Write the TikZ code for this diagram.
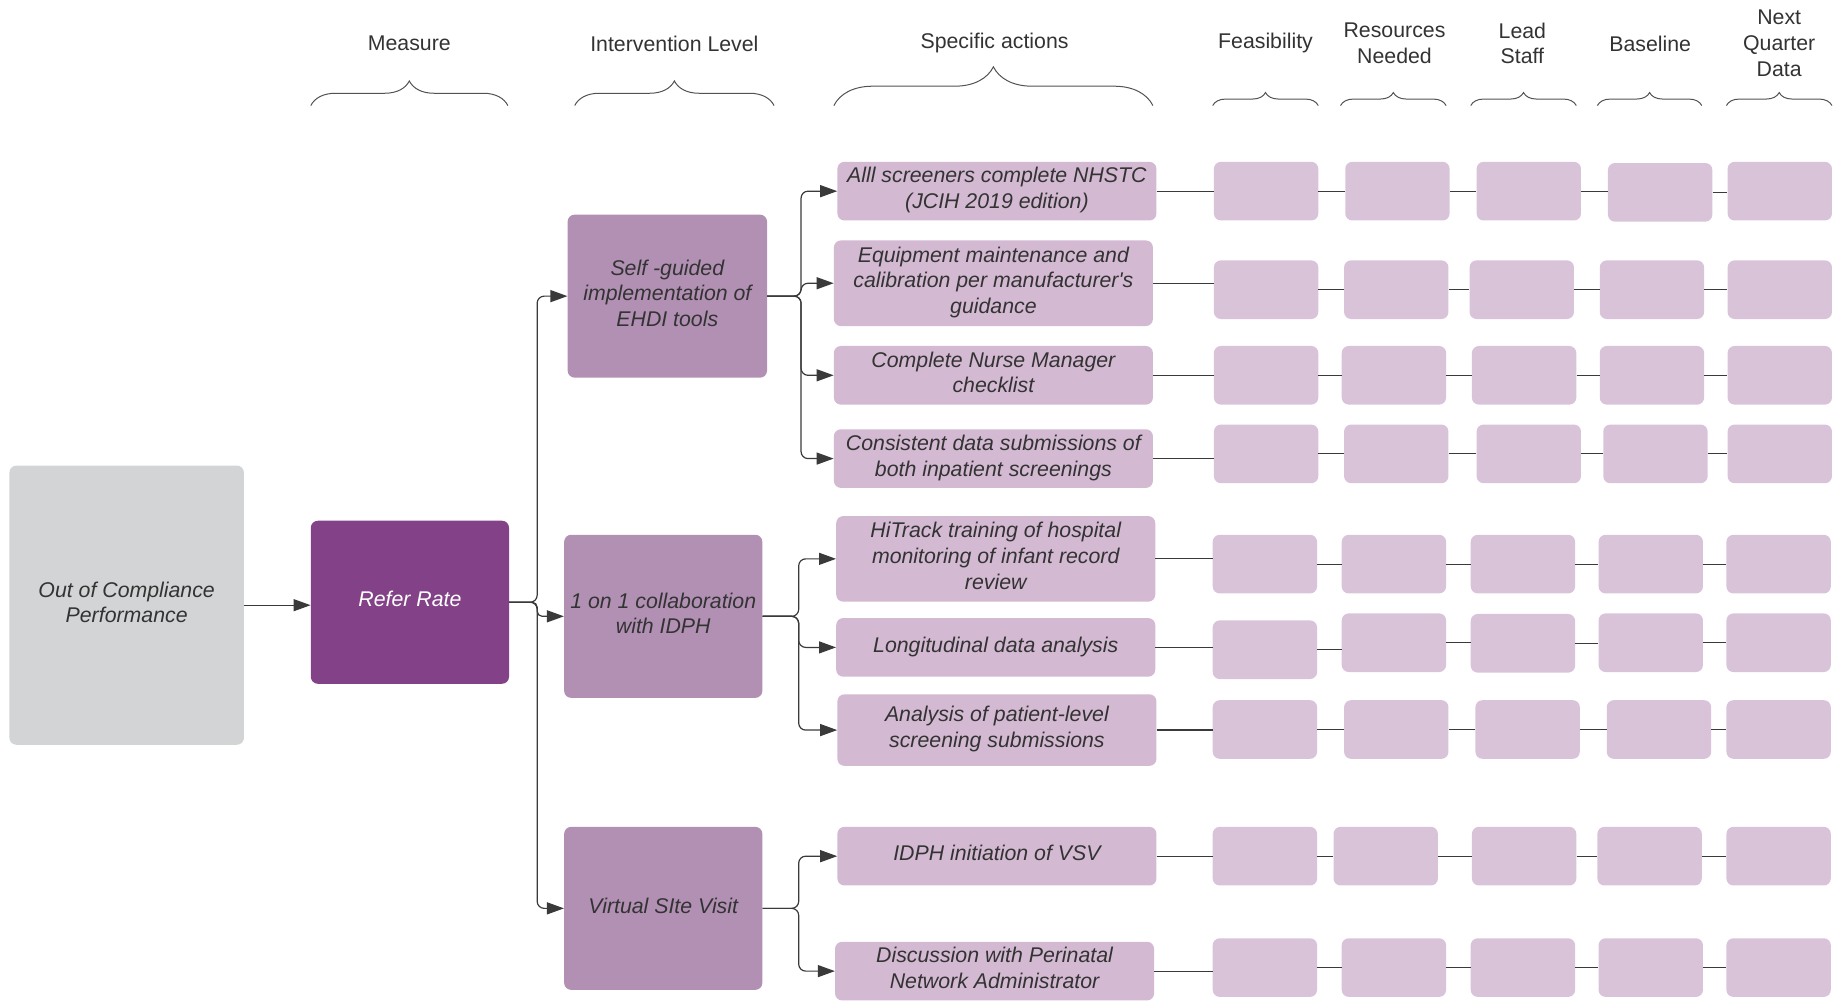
\documentclass[tikz,border=0pt]{standalone}
\usepackage{fontspec}
\setmainfont{Liberation Sans}
\usetikzlibrary{arrows.meta,decorations.pathreplacing,calc}
\definecolor{dk}{HTML}{333333}
\definecolor{lnc}{HTML}{3A3A3A}
\definecolor{grayfill}{HTML}{D3D4D6}
\definecolor{darkpurple}{HTML}{834187}
\definecolor{midpurple}{HTML}{B290B4}
\definecolor{lightpurple}{HTML}{D3B9D2}
\definecolor{gridpurple}{HTML}{D9C3D9}
\begin{document}
\begin{tikzpicture}[x=1.1728pt,y=-1.1728pt,
  sz/.style 2 args={minimum width=#1*1.1728pt, minimum height=#2*1.1728pt},
  base/.style={rounded corners=7pt, inner sep=0pt, align=center,
    font=\fontsize{21.3}{25.8}\selectfont\itshape, text=dk,
    execute at end node={\rule[-6pt]{0pt}{0pt}}},
  graybox/.style={base, fill=grayfill},
  referbox/.style={base, fill=darkpurple, text=white},
  levelbox/.style={base, fill=midpurple},
  actbox/.style={base, fill=lightpurple},
  gridbox/.style={rounded corners=7pt, inner sep=0pt, fill=gridpurple, sz={89}{50}},
  header/.style={align=center, inner sep=0pt, text=dk,
    font=\fontsize{21.3}{25.8}\selectfont},
  conn/.style={draw=lnc, line width=1.2pt, rounded corners=7pt},
  arr/.style={conn, -{Triangle[length=17pt,width=12pt]}},
  gline/.style={draw=lnc, line width=1.2pt},
  brc/.style={draw=dk!85, line width=1pt, decorate}
]
\useasboundingbox (0,0) rectangle (1568,854.4);

% headers
\node[header] (hMeasure) at (349,37) {Measure};
\node[header] (hLevel) at (575,37) {Intervention Level};
\node[header] (hActions) at (848,37) {Specific actions};
\node[header] (hFeas) at (1079,37) {Feasibility};
\node[header] (hRes) at (1189,37) {Resources\\Needed};
\node[header] (hLead) at (1298,37) {Lead\\Staff};
\node[header] (hBase) at (1407,37) {Baseline};
\node[header] (hNext) at (1517,37) {Next\\Quarter\\Data};

% braces
\draw[brc, decoration={brace, amplitude=24.6pt}] (265,90) -- (433,90);
\draw[brc, decoration={brace, amplitude=24.6pt}] (490,90) -- (660,90);
\draw[brc, decoration={brace, amplitude=38.7pt}] (711,90) -- (983,90);
\draw[brc, decoration={brace, amplitude=13pt}] (1034,90) -- (1124,90);
\draw[brc, decoration={brace, amplitude=13pt}] (1143,90) -- (1233,90);
\draw[brc, decoration={brace, amplitude=13pt}] (1254,90) -- (1344,90);
\draw[brc, decoration={brace, amplitude=13pt}] (1362,90) -- (1451,90);
\draw[brc, decoration={brace, amplitude=13pt}] (1472,90) -- (1562,90);

% main boxes
\node[graybox, sz={200}{238}] (out) at (108,516) {Out of Compliance\\Performance};
\node[referbox, sz={169}{139}] (refer) at (349.5,513.5) {Refer Rate};
\node[levelbox, sz={170}{139}] (self) at (569,252.5) {Self -guided\\implementation of\\EHDI tools};
\node[levelbox, sz={169}{139}] (one) at (565.5,525.5) {1 on 1 collaboration\\with IDPH};
\node[levelbox, sz={169}{139}] (virt) at (565.5,774.5) {Virtual SIte Visit};

% actions
\node[actbox, sz={272}{50}] (a1) at (850,163) {Alll screeners complete NHSTC\\(JCIH 2019 edition)};
\node[actbox, sz={272}{73}] (a2) at (847,241.5) {Equipment maintenance and\\calibration per manufacturer\textquotesingle s\\guidance};
\node[actbox, sz={272}{50}] (a3) at (847,320) {Complete Nurse Manager\\checklist};
\node[actbox, sz={272}{50}] (a4) at (847,391) {Consistent data submissions of\\both inpatient screenings};
\node[actbox, sz={272}{73}] (b1) at (849,476.5) {HiTrack training of hospital\\monitoring of infant record\\review};
\node[actbox, sz={272}{50}] (b2) at (849,552) {Longitudinal data analysis};
\node[actbox, sz={272}{61}] (b3) at (850,622.5) {Analysis of patient-level\\screening submissions};
\node[actbox, sz={272}{50}] (c1) at (850,730) {IDPH initiation of VSV};
\node[actbox, sz={272}{50}] (c2) at (848,828) {Discussion with Perinatal\\Network Administrator};

% grid boxes
\foreach \n/\x/\y in {
  11/1079.5/163, 12/1191.5/163, 13/1303.5/163, 14/1415.5/164, 15/1517.5/163,
  21/1079.5/247, 22/1190.5/247, 23/1297.5/247, 24/1408.5/247, 25/1517.5/247,
  31/1079.5/320, 32/1188.5/320, 33/1299.5/320, 34/1408.5/320, 35/1517.5/320,
  41/1079.5/387, 42/1190.5/387, 43/1303.5/387, 44/1411.5/387, 45/1517.5/387,
  51/1078.5/481, 52/1188.5/481, 53/1298.5/481, 54/1407.5/481, 55/1516.5/481,
  61/1078.5/554, 62/1188.5/548, 63/1298.5/548.5, 64/1407.5/548, 65/1516.5/548,
  71/1078.5/622, 72/1190.5/622, 73/1302.5/622, 74/1414.5/622, 75/1516.5/622,
  81/1078.5/730, 82/1181.5/730, 83/1299.5/730, 84/1406.5/730, 85/1516.5/730,
  91/1078.5/825, 92/1188.5/825, 93/1298.5/825, 94/1407.5/825, 95/1516.5/825}
  \node[gridbox] (g\n) at (\x,\y) {};

% grid connectors
\foreach \r/\a in {1/a1,2/a2,3/a3,4/a4,5/b1,6/b2,7/b3,8/c1,9/c2}{
  \draw[gline] (\a.east) -- (\a.east -| g\r1.west);
  \foreach \c [evaluate=\c as \d using int(\c+1)] in {1,...,4}
    \draw[gline] (g\r\c.east) -- (g\r\c.east -| g\r\d.west);
}

% bus coordinates
\coordinate (j0) at (458,0);
\coordinate (j1) at (683,0);
\coordinate (j2) at (681,0);
\coordinate (j3) at (681,0);

\draw[arr] (out.east) -- (out.east -| refer.west);
\draw[arr] (refer.east) -| (j0 |- self.west) -- (self.west);
\draw[arr, rounded corners=5pt] (refer.east) -| (j0 |- one.west) -- (one.west);
\draw[arr] (refer.east) -| (j0 |- virt.west) -- (virt.west);

\foreach \t in {a1,a2,a3,a4}
  \draw[arr] (self.east) -| (j1 |- \t.west) -- (\t.west);
\foreach \t in {b1,b2,b3}
  \draw[arr] (one.east) -| (j2 |- \t.west) -- (\t.west);
\foreach \t in {c1,c2}
  \draw[arr] (virt.east) -| (j3 |- \t.west) -- (\t.west);
\end{tikzpicture}
\end{document}
